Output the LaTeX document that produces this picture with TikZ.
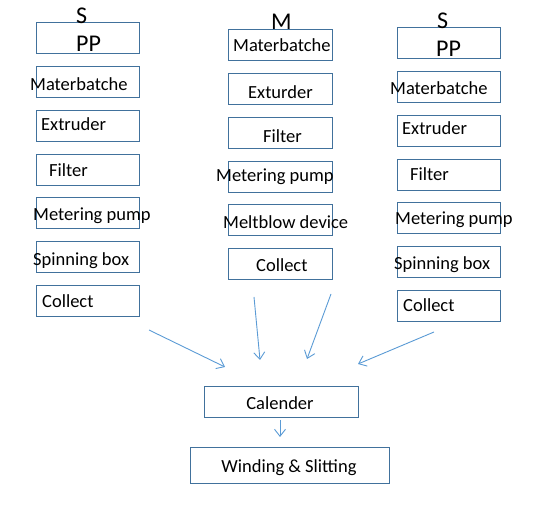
\documentclass[tikz,border=0pt]{standalone}
\usepackage{fontspec}
\setmainfont{Carlito}
\usetikzlibrary{positioning, arrows.meta}
\definecolor{boxblue}{HTML}{41719C}
\definecolor{arrowblue}{HTML}{5B9BD5}

\begin{document}
\begin{tikzpicture}[
    x=1pt, y=-1pt,
    node distance=12.7pt,
    box/.style={rectangle, draw=boxblue, line width=1pt, minimum width=103pt, minimum height=31pt, inner sep=0pt, outer sep=0pt},
    txt/.style={anchor=base west, inner sep=0pt, font=\fontsize{18.5}{22}\selectfont},
    ctxt/.style={anchor=base, inner sep=0pt, font=\fontsize{18.5}{22}\selectfont},
    big/.style={anchor=base west, inner sep=0pt, font=\fontsize{24}{28}\selectfont},
    arrow/.style={-{Straight Barb[length=7pt, width=11pt]}, draw=arrowblue, line width=0.9pt}
]
\useasboundingbox (0,0) rectangle (539,505);

% Left column (S)
\node[box] (sl1) at (87.5,38.5) {};
\node[box, below=of sl1] (sl2) {};
\node[box, below=of sl2] (sl3) {};
\node[box, below=of sl3] (sl4) {};
\node[box, below=of sl4] (sl5) {};
\node[box, below=of sl5] (sl6) {};
\node[box, below=of sl6] (sl7) {};

\node[big] (sl_title) at (76,24) {S};
\node[big] (sl_pp) at (76,52) {PP};
\node[txt] (sl_mb) at (30,90.5) {Materbatche};
\node[txt] (sl_ex) at (41,131) {Extruder};
\node[txt] (sl_fi) at (49,177) {Filter};
\node[txt] (sl_mp) at (33,221) {Metering pump};
\node[txt] (sl_sb) at (33,266) {Spinning box};
\node[txt] (sl_co) at (42,307.5) {Collect};

% Middle column (M)
\node[box, minimum width=104pt] (m1) at (280,45.5) {};
\node[box, minimum width=104pt, below=of m1] (m2) {};
\node[box, minimum width=104pt, below=of m2] (m3) {};
\node[box, minimum width=104pt, below=of m3] (m4) {};
\node[box, minimum width=104pt, below=of m4] (m5) {};
\node[box, minimum width=104pt, below=of m5] (m6) {};

\node[big] (m_title) at (271,29.5) {M};
\node[txt] (m_mb) at (233,52) {Materbatche};
\node[txt] (m_ex) at (248,99) {Exturder};
\node[txt] (m_fi) at (263,143) {Filter};
\node[txt] (m_mp) at (216,182) {Metering pump};
\node[txt] (m_md) at (223,229) {Meltblow device};
\node[txt] (m_co) at (256,272) {Collect};

% Right column (S)
\node[box] (sr1) at (448.5,43.5) {};
\node[box, below=of sr1] (sr2) {};
\node[box, below=of sr2] (sr3) {};
\node[box, below=of sr3] (sr4) {};
\node[box, below=of sr4] (sr5) {};
\node[box, below=of sr5] (sr6) {};
\node[box, below=of sr6] (sr7) {};

\node[big] (sr_title) at (437,28.5) {S};
\node[big] (sr_pp) at (436,57) {PP};
\node[txt] (sr_mb) at (390,94.5) {Materbatche};
\node[txt] (sr_ex) at (402,134.5) {Extruder};
\node[txt] (sr_fi) at (410,180.5) {Filter};
\node[txt] (sr_mp) at (395,225) {Metering pump};
\node[txt] (sr_sb) at (394,270) {Spinning box};
\node[txt] (sr_co) at (403,312) {Collect};

% Calender and winding
\node[box, minimum width=154pt] (cal) at (281,402.5) {};
\node[box, minimum width=199pt, minimum height=36pt] (wind) at (289.5,466) {};
\node[ctxt] (cal_t) at (280,410) {Calender};
\node[ctxt] (wind_t) at (289,473) {Winding \& Slitting};

% Arrow ends
\coordinate (a1s) at (149,330);
\coordinate (a1e) at (225,367);
\coordinate (a2s) at (254,297);
\coordinate (a2e) at (260,360);
\coordinate (a3s) at (331,294);
\coordinate (a3e) at (307,359);
\coordinate (a4s) at (434,332);
\coordinate (a4e) at (358,364);

% Arrows
\draw[arrow] (a1s) -- (a1e);
\draw[arrow] (a2s) -- (a2e);
\draw[arrow] (a3s) -- (a3e);
\draw[arrow] (a4s) -- (a4e);
\draw[arrow] ([xshift=-1pt, yshift=-2pt]cal.south) -- ([xshift=-9.5pt, yshift=11pt]wind.north);

\end{tikzpicture}
\end{document}
